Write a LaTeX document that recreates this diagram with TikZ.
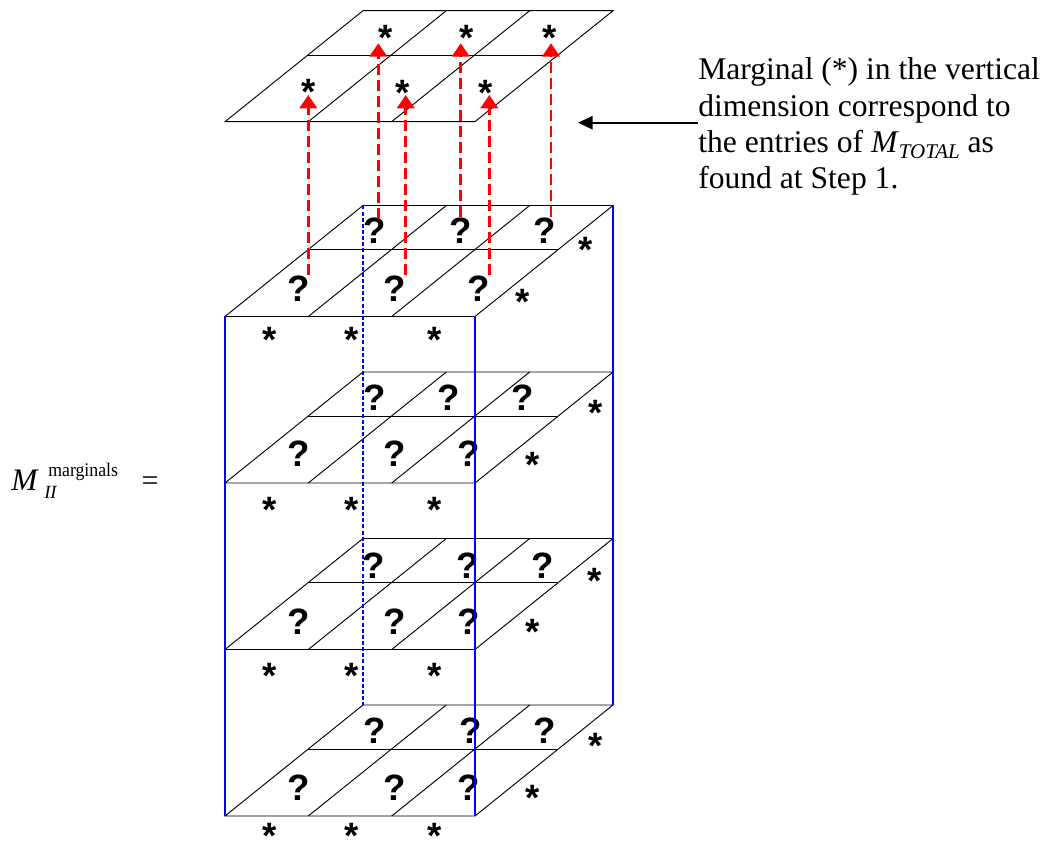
\documentclass[tikz,border=0pt]{standalone}
\usepackage{fontspec}
\setmainfont{Liberation Serif}
\newfontfamily\symsans{Liberation Sans}
\usetikzlibrary{arrows.meta}
\newcommand\layerplane[1]{%
  \draw[gridline] (225,#1+111) -- (475,#1+111) -- (613,#1) -- (363,#1) -- cycle;
  \draw[gridline] (308.3,#1+111) -- (446.3,#1);
  \draw[gridline] (391.7,#1+111) -- (529.7,#1);
  \draw[gridline] (307.8,#1+44.4) -- (557.8,#1+44.4);
}
\newcommand\starglyph{\raisebox{-0.568em}[0.17em][0.17em]{*}}
\begin{document}
\begin{tikzpicture}[x=0.75pt,y=-0.75pt,
  gridline/.style={black, line width=0.7pt},
  blueedge/.style={blue, line width=1.6pt},
  bluehidden/.style={blue, line width=1pt, dash pattern=on 3pt off 1.6pt},
  redarrow/.style={red, line width=2.2pt, dash pattern=on 8pt off 4pt,
    -{Triangle[length=10pt,width=13pt]}},
  blackarrow/.style={black, line width=1.3pt, -{Triangle[length=11pt,width=10pt]}},
  qmark/.style={font=\symsans\bfseries\fontsize{27.5}{27.5}\selectfont, inner sep=0pt, anchor=base},
  starmark/.style={font=\symsans\bfseries\fontsize{27.5}{27.5}\selectfont, inner sep=0pt, anchor=center},
  txt/.style={font=\fontsize{23.7}{28}\selectfont, inner sep=0pt, anchor=base west},
]
\useasboundingbox (0,0) rectangle (1059,841);

% planes
\layerplane{10.7}
\layerplane{205.5}
\layerplane{372}
\layerplane{538.5}
\layerplane{705}

% question marks
\foreach \x/\y [count=\i] in {375/230,461/230,545/230,299/288,395/288,479/288,
  375/397,449/397,523/397,299/453,395/453,469/453,
  374/565,468/565,543/565,299/621,395/621,469/621,
  375/730,471/730,545/730,299/787,395/787,469/787}
  \node[qmark] (q\i) at (\x,\y+13.4) {?};

% stars
\foreach \x/\y [count=\i] in {385.5/29.5,466.7/29.5,549.3/29.5,308.3/84,402.7/85,485.7/85,
  586/242,523/294,270/332,352/332,435/332,
  596/405,533/457,270/502,352/502,435/502,
  595/573,533/624,270/668,352/668,435/668,
  596/738,533/790,270/828,352/828,435/828}
  \node[starmark] (s\i) at (\x,\y) {\starglyph};

% cube edges
\coordinate (fl1) at (225,316.5); \coordinate (fl2) at (225,816);
\coordinate (fr1) at (475,316.5); \coordinate (fr2) at (475,816);
\coordinate (br1) at (613,205.5); \coordinate (br2) at (613,705);
\coordinate (bl1) at (363,205.5); \coordinate (bl2) at (363,705);
\draw[bluehidden] (bl1) -- (bl2);
\draw[blueedge] (fl1) -- (fl2);
\draw[blueedge] (fr1) -- (fr2);
\draw[blueedge] (br1) -- (br2);

% red arrows
\foreach \x/\ya/\yb [count=\i] in {308.3/275/95,405.7/275/95,489.3/275/95,
  378.3/219/43.3,460.7/217/43.3,551/217/43.3}{
  \coordinate (ra\i) at (\x,\ya);
  \coordinate (rb\i) at (\x,\yb);
  \draw[redarrow] (ra\i) -- (rb\i);
}

% left label
\node[inner sep=0pt, anchor=base west, font=\itshape\fontsize{23.5}{24}\selectfont] (lm) at (11,490) {M};
\node[inner sep=0pt, anchor=base west, font=\fontsize{14.5}{16}\selectfont] (lsup) at (48,476) {\scalebox{0.92}[1]{marginals}};
\node[inner sep=0pt, anchor=base west, font=\itshape\fontsize{14}{16}\selectfont] (lsub) at (44,498) {II};
\node[inner sep=0pt, anchor=base, font=\fontsize{22.5}{24}\selectfont] (leq) at (150,490) {=};

% right text
\node[txt] (t1) at (698,80) {Marginal (*) in the vertical};
\node[txt] (t2) at (698,116.5) {dimension correspond to};
\node[txt] (t3) at (698,152.5) {the entries of \textit{M}\raisebox{-4.5pt}{\fontsize{15.7}{16}\selectfont\itshape TOTAL} as};
\node[txt] (t4) at (698,188.5) {found at Step 1.};
\coordinate (as) at (698,122.7);
\coordinate (ae) at (578,122.7);
\draw[blackarrow] (as) -- (ae);
\end{tikzpicture}
\end{document}
